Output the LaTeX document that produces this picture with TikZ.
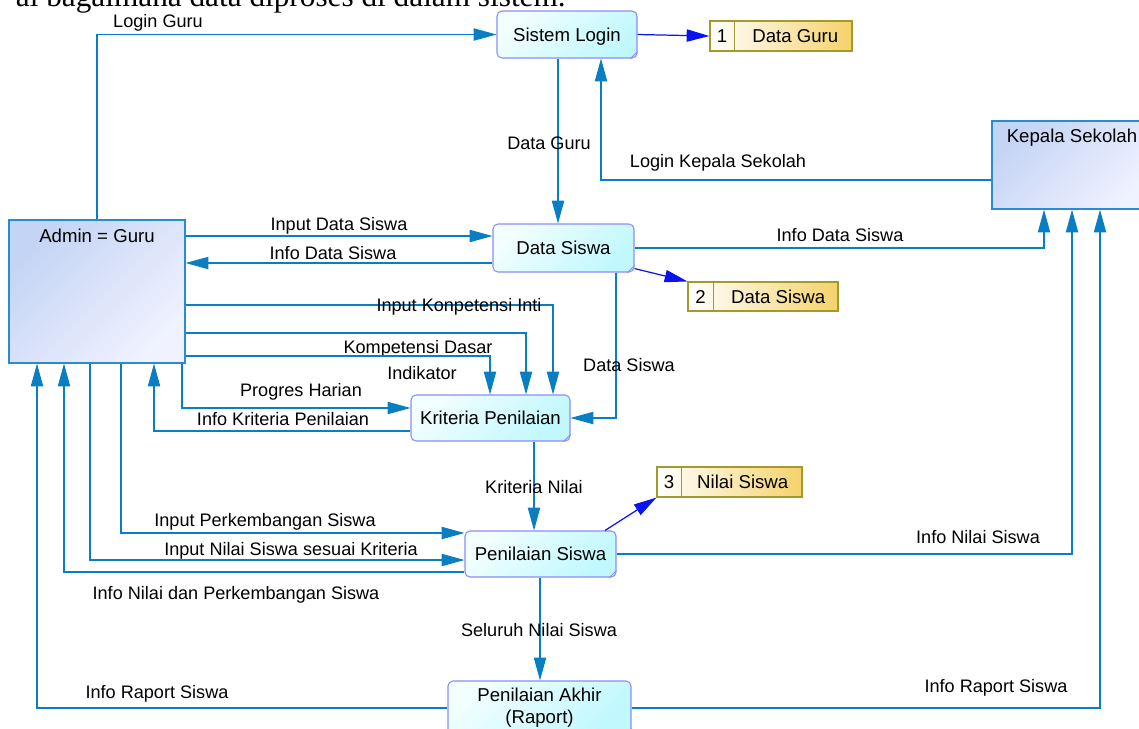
\documentclass[tikz,border=0pt]{standalone}
\usepackage{fontspec}
\setmainfont{Liberation Sans}
\newfontfamily\serifface{Liberation Serif}
\usetikzlibrary{arrows.meta,calc}

\definecolor{flow}{HTML}{0A7EC2}
\definecolor{storeflow}{HTML}{0A14F0}
\definecolor{procborder}{HTML}{8C8CF6}
\definecolor{proclight}{HTML}{F2FEFF}
\definecolor{procdark}{HTML}{C0F8FE}
\definecolor{entborder}{HTML}{2A8CD0}
\definecolor{entdark}{HTML}{C4D4F4}
\definecolor{entlight}{HTML}{F0F2FF}
\definecolor{storeborder}{HTML}{A49A2C}
\definecolor{storegold}{HTML}{F5D26A}

\begin{document}
\begin{tikzpicture}[x=0.02cm,y=-0.02cm,
  every node/.style={font=\fontsize{10.6pt}{12.5pt}\selectfont},
  flowline/.style={draw=flow, line width=0.6pt, -{Triangle[length=13pt,width=7pt]}},
  storeline/.style={draw=storeflow, line width=0.7pt, -{Triangle[length=13pt,width=7pt]}},
  flowlabel/.style={inner sep=0pt, text height=7.4pt, text depth=0pt,
    font=\fontsize{10.3pt}{12pt}\selectfont},
  procbox/.style={draw=procborder, line width=0.6pt, rounded corners=2.8pt,
    left color=proclight, right color=procdark, shading angle=45,
    text height=7.5pt, text depth=0pt},
  entbox/.style={draw=entborder, line width=0.7pt,
    left color=entdark, right color=entlight, shading angle=45},
  storebox/.style={draw=storeborder, line width=0.6pt,
    left color=white, right color=storegold}
]
\useasboundingbox (0,0) rectangle (1139,728);

% heading line of the page above the diagram
\node[anchor=base east, inner sep=0pt, font=\serifface\fontsize{17.8pt}{20pt}\selectfont]
  (heading) at (566,6) {al bagaimana data diproses di dalam sistem.};

% external entities
\node[entbox, minimum width=3.52cm, minimum height=2.86cm] (admin) at (97,291.5) {};
\node[anchor=north, inner sep=0pt, text height=7.5pt, text depth=0pt] (admintext) at (97,229) {Admin = Guru};
\node[entbox, minimum width=3.2cm, minimum height=1.76cm] (kepala) at (1072,165) {};
\node[anchor=north, inner sep=0pt, text height=7.5pt, text depth=0pt] (kepalatext) at (1072,129) {Kepala Sekolah};

% processes
\node[procbox, minimum width=2.8cm, minimum height=0.94cm] (login) at (567,34.5) {Sistem Login};
\node[procbox, minimum width=2.82cm, minimum height=0.96cm] (dsiswa) at (563.5,248) {Data Siswa};
\node[procbox, minimum width=3.18cm, minimum height=0.92cm] (krit) at (490.5,418) {Kriteria Penilaian};
\node[procbox, minimum width=3.02cm, minimum height=0.92cm] (psiswa) at (540.5,554) {Penilaian Siswa};
\node[draw=procborder, line width=0.6pt, rounded corners=2.8pt,
  left color=proclight, right color=procdark, shading angle=45,
  minimum width=3.66cm, minimum height=1.08cm, align=center] (pakhir) at (539.5,708)
  {Penilaian Akhir\\(Raport)};

% folded corner marks of the processes
\foreach \p in {login,dsiswa,krit,psiswa,pakhir}
  \draw[procborder, line width=0.5pt] ($(\p.south east)+(-7,0)$) -- ($(\p.south east)+(0,-7)$);

% data stores
\node[storebox, minimum width=2.84cm, minimum height=0.6cm] (dguru) at (781,36) {};
\draw[storeborder, line width=0.6pt] ($(dguru.north west)+(25,0)$) -- ($(dguru.south west)+(25,0)$);
\node at ($(dguru.west)+(12.5,0)$) {1};
\node[anchor=east, text height=7.5pt, text depth=0pt] at ($(dguru.east)+(-8,0)$) {Data Guru};

\node[storebox, minimum width=3.0cm, minimum height=0.58cm] (dsstore) at (763,296.5) {};
\draw[storeborder, line width=0.6pt] ($(dsstore.north west)+(26,0)$) -- ($(dsstore.south west)+(26,0)$);
\node at ($(dsstore.west)+(13,0)$) {2};
\node[anchor=east, text height=7.5pt, text depth=0pt] at ($(dsstore.east)+(-7,0)$) {Data Siswa};

\node[storebox, minimum width=2.9cm, minimum height=0.6cm] (nsstore) at (729.5,482) {};
\draw[storeborder, line width=0.6pt] ($(nsstore.north west)+(25,0)$) -- ($(nsstore.south west)+(25,0)$);
\node at ($(nsstore.west)+(12.5,0)$) {3};
\node[anchor=east, text height=7.5pt, text depth=0pt] at ($(nsstore.east)+(-8,0)$) {Nilai Siswa};

% flows to data stores
\draw[storeline] (login.east) -- (dguru.west);
\draw[storeline] ($(dsiswa.south east)+(0,-4)$) -- (dsstore.north west);
\draw[storeline] (psiswa.north -| 605,0) -- (nsstore.south west);

% data flows
\draw[flowline] (admin.north) |- (login.west);
\node[flowlabel] at (158,21) {Login Guru};

\draw[flowline] (login.south -| 558,0) -- (dsiswa.north -| 558,0);
\node[flowlabel] at (549,143) {Data Guru};

\draw[flowline] (kepala.west |- 0,180) -| (login.south -| 601,0);
\node[flowlabel] at (718,161) {Login Kepala Sekolah};

\draw[flowline] (admin.east |- 0,236) -- (dsiswa.west |- 0,236);
\node[flowlabel] at (339,224) {Input Data Siswa};

\draw[flowline] (dsiswa.west |- 0,263) -- (admin.east |- 0,263);
\node[flowlabel] at (333,253) {Info Data Siswa};

\draw[flowline] (dsiswa.east) -| (kepala.south -| 1044,0);
\node[flowlabel] at (840,235) {Info Data Siswa};

\draw[flowline] (dsiswa.south -| 616,0) |- (krit.east);
\node[flowlabel] at (629,365) {Data Siswa};

\draw[flowline] (admin.east |- 0,305) -| (krit.north -| 553,0);
\node[flowlabel] at (459,305) {Input Konpetensi Inti};

\draw[flowline] (admin.east |- 0,333) -| (krit.north -| 526,0);
\node[flowlabel] at (418,347) {Kompetensi Dasar};

\draw[flowline] (admin.east |- 0,356) -| (krit.north -| 490,0);
\node[flowlabel] at (422,373) {Indikator};

\draw[flowline] (admin.south -| 182,0) |- (krit.west |- 0,408);
\node[flowlabel] at (301,390) {Progres Harian};

\draw[flowline] (krit.west |- 0,431) -| (admin.south -| 154,0);
\node[flowlabel] at (283,419) {Info Kriteria Penilaian};

\draw[flowline] (krit.south -| 534,0) -- (psiswa.north -| 534,0);
\node[flowlabel] at (534,487) {Kriteria Nilai};

\draw[flowline] (admin.south -| 121,0) |- (psiswa.west |- 0,533);
\node[flowlabel] at (265,520) {Input Perkembangan Siswa};

\draw[flowline] (admin.south -| 90,0) |- (psiswa.west |- 0,560);
\node[flowlabel] at (291,549) {Input Nilai Siswa sesuai Kriteria};

\draw[flowline] (psiswa.west |- 0,572) -| (admin.south -| 64,0);
\node[flowlabel] at (236,593) {Info Nilai dan Perkembangan Siswa};

\draw[flowline] (pakhir.west |- 0,708) -| (admin.south -| 37,0);
\node[flowlabel] at (157,692) {Info Raport Siswa};

\draw[flowline] (psiswa.east) -| (kepala.south -| 1072,0);
\node[flowlabel] at (978,537) {Info Nilai Siswa};

\draw[flowline] (pakhir.east |- 0,708) -| (kepala.south -| 1100,0);
\node[flowlabel] at (996,686) {Info Raport Siswa};

\draw[flowline] (psiswa.south -| 540,0) -- (pakhir.north -| 540,0);
\node[flowlabel] at (539,630) {Seluruh Nilai Siswa};
\end{tikzpicture}
\end{document}
